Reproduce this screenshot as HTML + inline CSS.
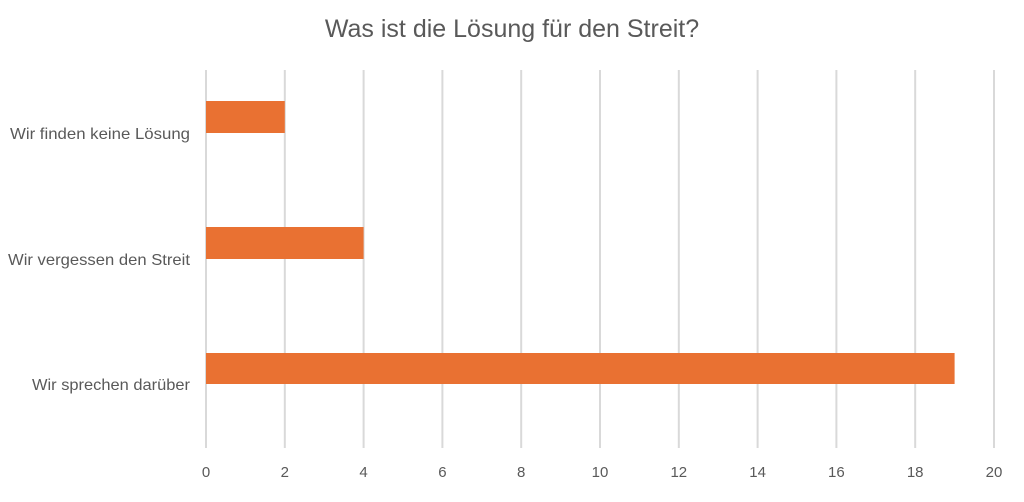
<!DOCTYPE html><html><head><style>body{margin:0;background:#fff}</style></head><body>
<svg width="1024" height="497" xmlns="http://www.w3.org/2000/svg" font-family="Liberation Sans, sans-serif">
<rect width="1024" height="497" fill="#fff"/>
<text x="512" y="37" text-anchor="middle" font-size="25" fill="#595959">Was ist die Lösung für den Streit?</text>
<g stroke="#d9d9d9" stroke-width="2">
<line x1="206" y1="70" x2="206" y2="448"/><line x1="284.8" y1="70" x2="284.8" y2="448"/><line x1="363.6" y1="70" x2="363.6" y2="448"/><line x1="442.4" y1="70" x2="442.4" y2="448"/><line x1="521.2" y1="70" x2="521.2" y2="448"/><line x1="600" y1="70" x2="600" y2="448"/><line x1="678.8" y1="70" x2="678.8" y2="448"/><line x1="757.6" y1="70" x2="757.6" y2="448"/><line x1="836.4" y1="70" x2="836.4" y2="448"/><line x1="915.2" y1="70" x2="915.2" y2="448"/><line x1="994" y1="70" x2="994" y2="448"/>
</g>
<g fill="#e97132">
<rect x="206" y="101" width="78.8" height="32"/>
<rect x="206" y="227" width="157.6" height="32"/>
<rect x="206" y="353" width="748.6" height="31"/>
</g>
<g font-size="16" fill="#595959" text-anchor="end">
<text x="190" y="139" textLength="180" lengthAdjust="spacingAndGlyphs">Wir finden keine Lösung</text>
<text x="190" y="265" textLength="182" lengthAdjust="spacingAndGlyphs">Wir vergessen den Streit</text>
<text x="190" y="390" textLength="158" lengthAdjust="spacingAndGlyphs">Wir sprechen darüber</text>
</g>
<g font-size="15" fill="#595959" text-anchor="middle">
<text x="206" y="477">0</text><text x="284.8" y="477">2</text><text x="363.6" y="477">4</text><text x="442.4" y="477">6</text><text x="521.2" y="477">8</text><text x="600" y="477">10</text><text x="678.8" y="477">12</text><text x="757.6" y="477">14</text><text x="836.4" y="477">16</text><text x="915.2" y="477">18</text><text x="994" y="477">20</text>
</g>
</svg></body></html>
